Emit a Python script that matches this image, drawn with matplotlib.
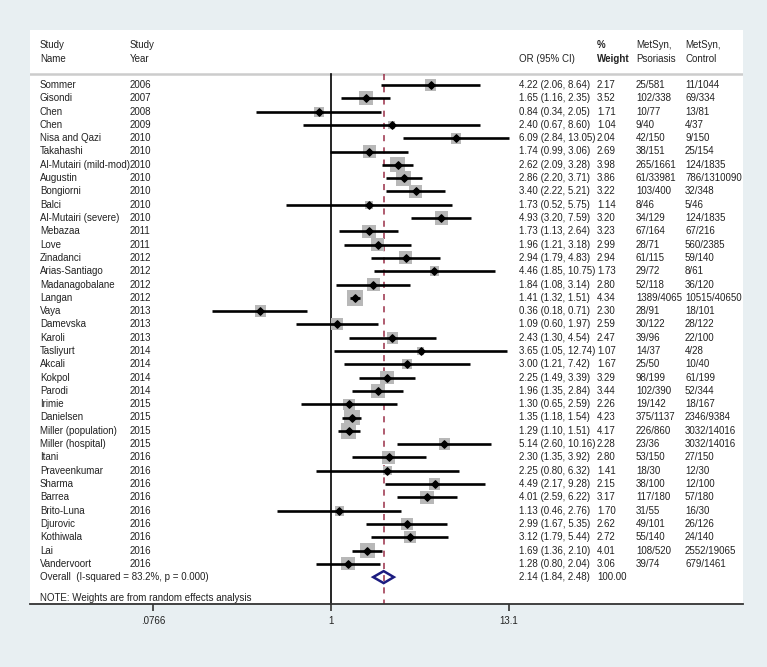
import numpy as np
import matplotlib
matplotlib.use("Agg")
import matplotlib.pyplot as plt
from matplotlib.patches import Polygon
from matplotlib.transforms import blended_transform_factory

plt.rcParams['font.family'] = ['Liberation Sans', 'DejaVu Sans']

names = ["Sommer", "Gisondi", "Chen", "Chen", "Nisa and Qazi", "Takahashi",
         "Al-Mutairi (mild-mod)", "Augustin", "Bongiorni", "Balci",
         "Al-Mutairi (severe)", "Mebazaa", "Love", "Zinadanci", "Arias-Santiago",
         "Madanagobalane", "Langan", "Vaya", "Damevska", "Karoli", "Tasliyurt",
         "Akcali", "Kokpol", "Parodi", "Irimie", "Danielsen", "Miller (population)",
         "Miller (hospital)", "Itani", "Praveenkumar", "Sharma", "Barrea",
         "Brito-Luna", "Djurovic", "Kothiwala", "Lai", "Vandervoort"]
years = ["2006", "2007", "2008", "2009", "2010", "2010", "2010", "2010", "2010",
         "2010", "2010", "2011", "2011", "2012", "2012", "2012", "2012", "2013",
         "2013", "2013", "2014", "2014", "2014", "2014", "2015", "2015", "2015",
         "2015", "2016", "2016", "2016", "2016", "2016", "2016", "2016", "2016",
         "2016"]
or_est = [4.22, 1.65, 0.84, 2.40, 6.09, 1.74, 2.62, 2.86, 3.40, 1.73, 4.93, 1.73,
          1.96, 2.94, 4.46, 1.84, 1.41, 0.36, 1.09, 2.43, 3.65, 3.00, 2.25, 1.96,
          1.30, 1.35, 1.29, 5.14, 2.30, 2.25, 4.49, 4.01, 1.13, 2.99, 3.12, 1.69,
          1.28]
ci_lo = [2.06, 1.16, 0.34, 0.67, 2.84, 0.99, 2.09, 2.20, 2.22, 0.52, 3.20, 1.13,
         1.21, 1.79, 1.85, 1.08, 1.32, 0.18, 0.60, 1.30, 1.05, 1.21, 1.49, 1.35,
         0.65, 1.18, 1.10, 2.60, 1.35, 0.80, 2.17, 2.59, 0.46, 1.67, 1.79, 1.36,
         0.80]
ci_hi = [8.64, 2.35, 2.05, 8.60, 13.05, 3.06, 3.28, 3.71, 5.21, 5.75, 7.59, 2.64,
         3.18, 4.83, 10.75, 3.14, 1.51, 0.71, 1.97, 4.54, 12.74, 7.42, 3.39, 2.84,
         2.59, 1.54, 1.51, 10.16, 3.92, 6.32, 9.28, 6.22, 2.76, 5.35, 5.44, 2.10,
         2.04]
weights = [2.17, 3.52, 1.71, 1.04, 2.04, 2.69, 3.98, 3.86, 3.22, 1.14, 3.20, 3.23,
           2.99, 2.94, 1.73, 2.80, 4.34, 2.30, 2.59, 2.47, 1.07, 1.67, 3.29, 3.44,
           2.26, 4.23, 4.17, 2.28, 2.80, 1.41, 2.15, 3.17, 1.70, 2.62, 2.72, 4.01,
           3.06]
metsyn_psor = ["25/581", "102/338", "10/77", "9/40", "42/150", "38/151", "265/1661",
               "61/33981", "103/400", "8/46", "34/129", "67/164", "28/71", "61/115",
               "29/72", "52/118", "1389/4065", "28/91", "30/122", "39/96", "14/37",
               "25/50", "98/199", "102/390", "19/142", "375/1137", "226/860", "23/36",
               "53/150", "18/30", "38/100", "117/180", "31/55", "49/101", "55/140",
               "108/520", "39/74"]
metsyn_ctrl = ["11/1044", "69/334", "13/81", "4/37", "9/150", "25/154", "124/1835",
               "786/1310090", "32/348", "5/46", "124/1835", "67/216", "560/2385",
               "59/140", "8/61", "36/120", "10515/40650", "18/101", "28/122", "22/100",
               "4/28", "10/40", "61/199", "52/344", "18/167", "2346/9384", "3032/14016",
               "3032/14016", "27/150", "12/30", "12/100", "57/180", "16/30", "26/126",
               "24/140", "2552/19065", "679/1461"]
overall_est, overall_lo, overall_hi = 2.14, 1.84, 2.48
overall_label = "Overall  (I-squared = 83.2%, p = 0.000)"
note_text = "NOTE: Weights are from random effects analysis"
tick_vals = [0.0766, 1, 13.1]
tick_labels = [".0766", "1", "13.1"]

W, H = 767, 667
fig = plt.figure(figsize=(W / 100, H / 100), dpi=100)
fig.patch.set_facecolor('#e8eff2')

# white plot panel in pixels
px_l, px_r, px_t, px_b = 30, 743, 30, 604
ax = fig.add_axes([px_l / W, 1 - px_b / H, (px_r - px_l) / W, (px_b - px_t) / H])
ax.set_facecolor('white')
ax.set_xscale('log')
# OR=1 at x=331 px, 69.2 px per ln-unit
k = 69.2
ax.set_xlim(np.exp((px_l - 331) / k), np.exp((px_r - 331) / k))
row0, dy = 85, 13.3
ax.set_ylim((px_b - row0) / dy, (px_t - row0) / dy)

for s in ['top', 'right', 'left']:
    ax.spines[s].set_visible(False)
ax.spines['bottom'].set_color('#333333')
ax.spines['bottom'].set_linewidth(1.3)
ax.set_yticks([])
ax.set_xticks(tick_vals)
ax.set_xticklabels(tick_labels)
ax.minorticks_off()
ax.tick_params(axis='x', direction='out', length=5, width=1.2, color='#333333',
               labelsize=7, labelcolor='#222222', pad=4)

n = len(names)
rows = np.arange(n)
sep_y = -0.8
ymax = (px_b - row0) / dy

# separator line
ax.axhline(sep_y, color='#cccccc', lw=1.8, zorder=1)
# null line and overall dashed line
ax.plot([1, 1], [sep_y, ymax], color='black', lw=1.2, zorder=2, clip_on=False)
ax.plot([overall_est, overall_est], [sep_y, ymax], color='#9a2f48', lw=1.1,
        ls=(0, (4, 4)), zorder=2)

# weight boxes
ax.scatter(or_est, rows, s=[29.5 * w for w in weights], marker='s',
           color='#b8b8b8', edgecolors='none', zorder=3)
# CI lines
ax.hlines(rows, ci_lo, ci_hi, color='black', lw=1.9, zorder=4)
# point estimates
ax.scatter(or_est, rows, s=14, marker='D', color='black', zorder=5)

# overall diamond
yo = n
h = 0.45
diamond = Polygon([(overall_lo, yo), (overall_est, yo - h), (overall_hi, yo),
                   (overall_est, yo + h)], closed=True, fill=False,
                  edgecolor='#1c1c80', lw=1.8, zorder=5)
ax.add_patch(diamond)

# text columns
tr = blended_transform_factory(ax.transAxes, ax.transData)
def fx(px):
    return (px - px_l) / (px_r - px_l)

x_name, x_year, x_or, x_wt, x_ps, x_ct = fx(40), fx(130), fx(519), fx(597), fx(636), fx(685)
fs = 7
tc = '#222222'
kw = dict(transform=tr, fontsize=fs, color=tc, va='center', ha='left')

hy1, hy2 = -3.0, -1.95
ax.text(x_name, hy1, "Study", **kw)
ax.text(x_name, hy2, "Name", **kw)
ax.text(x_year, hy1, "Study", **kw)
ax.text(x_year, hy2, "Year", **kw)
ax.text(x_or, hy2, "OR (95% CI)", **kw)
ax.text(x_wt, hy1, "%", fontweight='bold', **kw)
ax.text(x_wt, hy2, "Weight", fontweight='bold', **kw)
ax.text(x_ps, hy1, "MetSyn,", **kw)
ax.text(x_ps, hy2, "Psoriasis", **kw)
ax.text(x_ct, hy1, "MetSyn,", **kw)
ax.text(x_ct, hy2, "Control", **kw)

for i in range(n):
    ax.text(x_name, i, names[i], **kw)
    ax.text(x_year, i, years[i], **kw)
    ax.text(x_or, i, f"{or_est[i]:.2f} ({ci_lo[i]:.2f}, {ci_hi[i]:.2f})", **kw)
    ax.text(x_wt, i, f"{weights[i]:.2f}", **kw)
    ax.text(x_ps, i, metsyn_psor[i], **kw)
    ax.text(x_ct, i, metsyn_ctrl[i], **kw)

ax.text(x_name, n, overall_label, **kw)
ax.text(x_or, n, f"{overall_est:.2f} ({overall_lo:.2f}, {overall_hi:.2f})", **kw)
ax.text(x_wt, n, f"{100:.2f}", **kw)
ax.text(x_name, (598 - row0) / dy, note_text, **kw)

fig.savefig("out.png", dpi=100, facecolor=fig.get_facecolor())
